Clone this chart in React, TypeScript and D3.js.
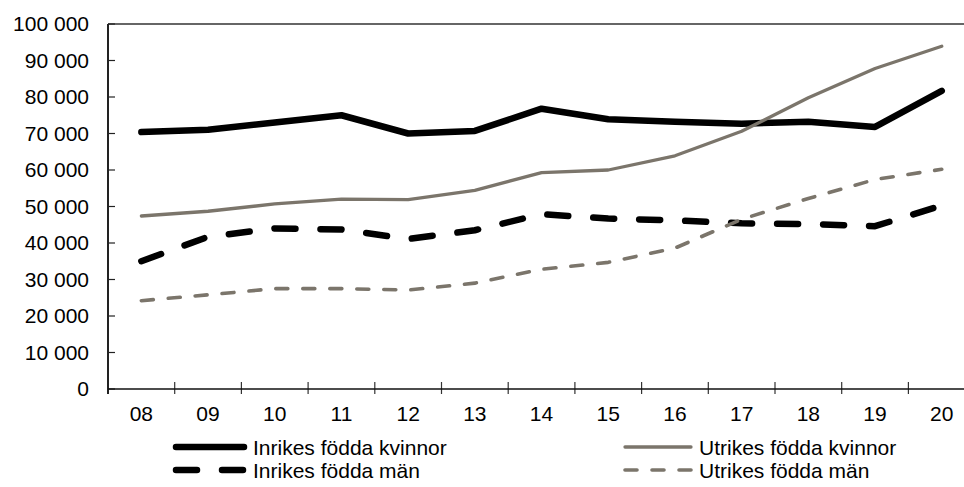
import React from "react";
import * as d3 from "d3";

const years = ["08", "09", "10", "11", "12", "13", "14", "15", "16", "17", "18", "19", "20"];
const inrikesKvinnor = [70400, 71000, 73000, 75000, 70000, 70700, 76800, 73900, 73200, 72700, 73200, 71800, 81700];
const utrikesKvinnor = [47400, 48700, 50700, 52000, 51900, 54400, 59300, 60000, 63900, 70600, 79800, 87800, 93900];
const inrikesMan = [35000, 41700, 44000, 43700, 41100, 43500, 47900, 46700, 46200, 45400, 45200, 44600, 50300];
const utrikesMan = [24200, 25800, 27500, 27500, 27100, 29000, 32800, 34700, 38600, 46500, 52200, 57400, 60200];
const yTicks = [0, 10000, 20000, 30000, 40000, 50000, 60000, 70000, 80000, 90000, 100000];
const seriesNames = ["Inrikes födda kvinnor", "Utrikes födda kvinnor", "Inrikes födda män", "Utrikes födda män"];

const W = 964;
const H = 487;
const left = 108;
const top = 24;
const bottom = 389;
const bandW = 66.7;

const BLACK = "#000000";
const GRAY = "#7b756b";

const styles = [
  { color: BLACK, width: 6.5, dash: undefined as string | undefined },
  { color: GRAY, width: 3.3, dash: undefined as string | undefined },
  { color: BLACK, width: 6.5, dash: "21,25" },
  { color: GRAY, width: 3.6, dash: "12,15" },
];

const fmt = (v: number) => d3.format(",")(v).replace(/,/g, " ");

export default function App() {
  const x = d3.scaleBand<string>().domain(years).range([left, left + bandW * years.length]).padding(0);
  const y = d3.scaleLinear().domain([0, 100000]).range([bottom, top]);
  const line = d3
    .line<number>()
    .x((_, i) => (x(years[i]) as number) + x.bandwidth() / 2)
    .y((d) => y(d));
  const data = [inrikesKvinnor, utrikesKvinnor, inrikesMan, utrikesMan];
  const boundaries = d3.range(years.length + 1).map((i) => left + i * x.bandwidth());
  const font = "'Liberation Sans', Arial, sans-serif";

  const legendPos = [
    { x1: 176, x2: 244, tx: 253, ty: 447 },
    { x1: 625, x2: 691, tx: 699, ty: 447 },
    { x1: 176, x2: 244, tx: 253, ty: 470 },
    { x1: 625, x2: 691, tx: 699, ty: 470 },
  ];

  return (
    <svg
      width={W}
      height={H}
      style={{ position: "absolute", left: 0, top: 0, background: "#fff" }}
      fontFamily={font}
    >
      <rect x={0} y={0} width={W} height={H} fill="#fff" />
      <line x1={left} x2={W} y1={top} y2={top} stroke="#333" strokeWidth={1.5} />
      {yTicks.map((t) => (
        <g key={t}>
          <line x1={left} x2={left + 7} y1={y(t)} y2={y(t)} stroke="#222" strokeWidth={1.2} />
          <text x={89} y={y(t)} dy="0.35em" textAnchor="end" fontSize={21} fill="#000">
            {fmt(t)}
          </text>
        </g>
      ))}
      {boundaries.map((b, i) => (
        <line key={i} x1={b} x2={b} y1={bottom - 7} y2={bottom + 5} stroke="#333" strokeWidth={1.2} />
      ))}
      {years.map((yr) => (
        <text
          key={yr}
          x={(x(yr) as number) + x.bandwidth() / 2}
          y={421}
          textAnchor="middle"
          fontSize={21}
          fill="#000"
        >
          {yr}
        </text>
      ))}
      <line x1={left} x2={left} y1={top} y2={bottom + 5} stroke="#222" strokeWidth={2} />
      <line x1={left} x2={W} y1={bottom} y2={bottom} stroke="#111" strokeWidth={1.5} />
      {data.map((d, i) => (
        <path
          key={i}
          d={line(d) as string}
          fill="none"
          stroke={styles[i].color}
          strokeWidth={styles[i].width}
          strokeDasharray={styles[i].dash}
          strokeLinecap="round"
          strokeLinejoin="round"
        />
      ))}
      {seriesNames.map((n, i) => (
        <g key={n}>
          <line
            x1={legendPos[i].x1}
            x2={legendPos[i].x2}
            y1={legendPos[i].ty}
            y2={legendPos[i].ty}
            stroke={styles[i].color}
            strokeWidth={styles[i].width}
            strokeDasharray={styles[i].dash}
            strokeLinecap="round"
          />
          <text x={legendPos[i].tx} y={legendPos[i].ty} dy="0.36em" fontSize={21} fill="#000">
            {n}
          </text>
        </g>
      ))}
    </svg>
  );
}
